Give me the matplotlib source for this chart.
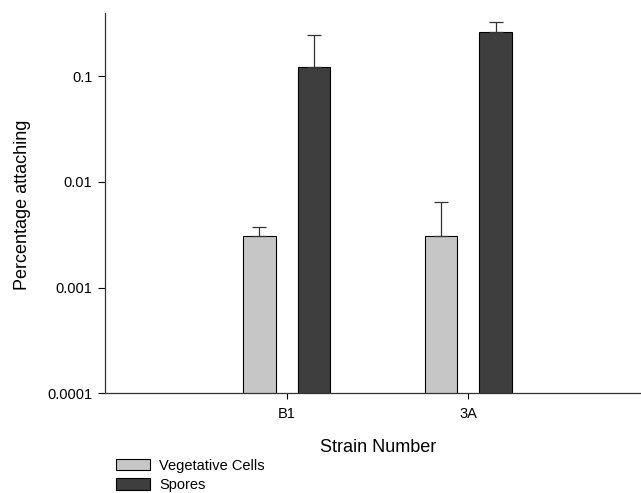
import matplotlib.pyplot as plt
import numpy as np

plt.rcParams['font.family'] = ['Liberation Sans', 'DejaVu Sans']

strains = ["B1", "3A"]
vegetative = [0.00306, 0.00304]
vegetative_err = [0.00064, 0.0034]
spores = [0.122, 0.262]
spores_err = [0.122, 0.064]

fig = plt.figure(figsize=(6.41, 4.93), dpi=100)
ax = fig.add_axes([105/641, 1-393.3/493, 1-105/641, (393.3-13.3)/493])

x = np.arange(len(strains))
w = 0.18
err_kw = dict(ecolor="#333333", elinewidth=0.9, capsize=5, capthick=0.9)
ax.bar(x - 0.15, vegetative, w, color="#c6c6c6", edgecolor="black", linewidth=0.8,
       yerr=[[0, 0], vegetative_err], error_kw=err_kw, label="Vegetative Cells")
ax.bar(x + 0.15, spores, w, color="#3e3e3e", edgecolor="black", linewidth=0.8,
       yerr=[[0, 0], spores_err], error_kw=err_kw, label="Spores")

ax.set_yscale("log")
ax.set_ylim(1e-4, 0.392)
ax.set_xlim(-1.0, 1.95)
ax.set_yticks([1e-4, 1e-3, 1e-2, 1e-1])
ax.set_yticklabels(["0.0001", "0.001", "0.01", "0.1"])
ax.yaxis.set_minor_locator(plt.NullLocator())
ax.set_xticks(x)
ax.set_xticklabels(strains)
ax.tick_params(axis="both", labelsize=10.5, length=5, width=0.8, pad=4)
ax.tick_params(axis="x", length=4, pad=6)

for s in ["top", "right"]:
    ax.spines[s].set_visible(False)
for s in ["left", "bottom"]:
    ax.spines[s].set_color("#333333")
    ax.spines[s].set_linewidth(0.9)

fig.text(22.5/641, 1-205/493, "Percentage attaching", rotation=90,
         ha="center", va="center", fontsize=13)
fig.text(378.5/641, 1-447/493, "Strain Number", ha="center", va="center", fontsize=13)

fig.legend(loc="upper left", bbox_to_anchor=(116/641, 1-458.7/493), frameon=False,
           fontsize=10.5, handlelength=2.33, handleheight=0.82, handletextpad=0.64,
           labelspacing=0.37, borderpad=0, borderaxespad=0)

fig.savefig("out.png", dpi=100)
